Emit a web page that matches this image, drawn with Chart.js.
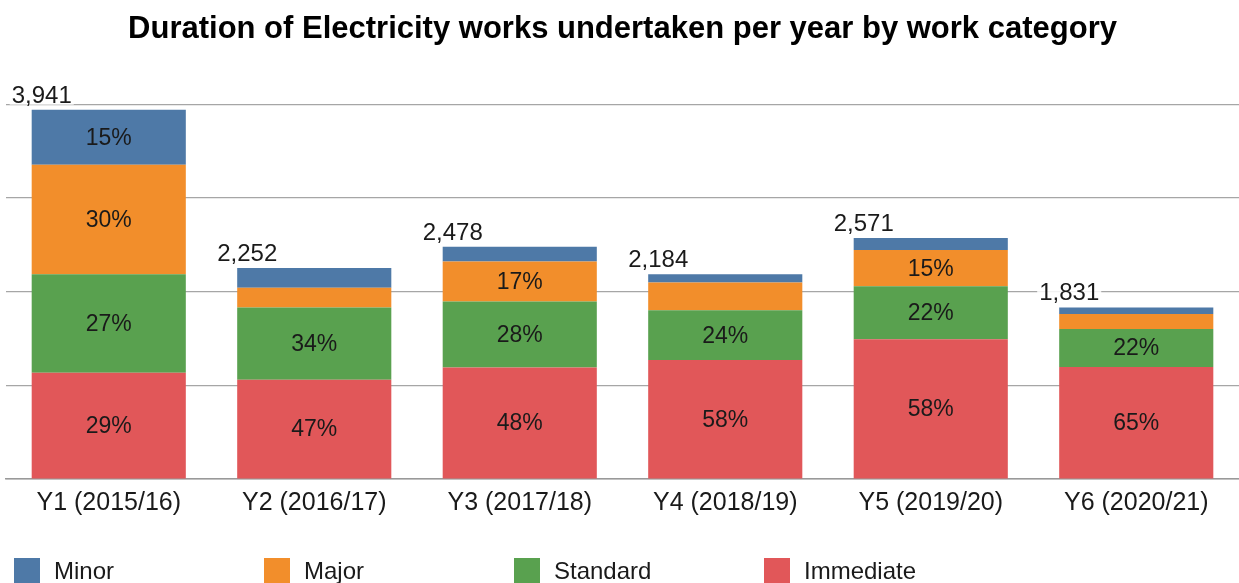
<!DOCTYPE html>
<html>
<head>
<meta charset="utf-8">
<script src="https://cdn.jsdelivr.net/npm/chart.js@4"></script>
<style>
  html, body { margin: 0; padding: 0; background: #fff; }
  #wrap { width: 1239px; height: 583px; }
</style>
</head>
<body>
<div id="wrap"><canvas id="myChart"></canvas></div>
<script>
// values (duration per category, per year)
labels = ["Y1 (2015/16)", "Y2 (2016/17)", "Y3 (2017/18)", "Y4 (2018/19)", "Y5 (2019/20)", "Y6 (2020/21)"];
minor = [586, 210, 158, 88, 128, 71];
major = [1170, 212, 425, 296, 386, 160];
standard = [1050, 770, 705, 530, 566, 405];
immediate = [1135, 1060, 1190, 1270, 1491, 1195];

legendNames = ["Minor", "Major", "Standard", "Immediate"];
legendColors = ["#4e79a7", "#f28e2b", "#59a14f", "#e15759"];

FONT = "'Liberation Sans', Arial, sans-serif";

totals = [];
for (i = 0; i < labels.length; i++) {
  totals.push(minor[i] + major[i] + standard[i] + immediate[i]);
}

// percentages inside segments + totals above bars
labelPlugin = {
  id: "labelPlugin",
  afterDatasetsDraw: function (chart) {
    let ctx = chart.ctx;
    ctx.save();
    ctx.fillStyle = "#1a1a1a";
    ctx.font = "23px " + FONT;
    ctx.textAlign = "center";
    ctx.textBaseline = "middle";
    chart.data.datasets.forEach(function (ds, d) {
      let meta = chart.getDatasetMeta(d);
      meta.data.forEach(function (bar, i) {
        let pct = Math.round((ds.data[i] / totals[i]) * 100);
        if (pct < 15) return;
        let mid = (bar.y + bar.base) / 2;
        ctx.fillText(pct + "%", bar.x, mid + 1);
      });
    });

    // totals, left of bar top with a white box behind
    let top = chart.getDatasetMeta(chart.data.datasets.length - 1);
    ctx.font = "24px " + FONT;
    ctx.textAlign = "left";
    ctx.textBaseline = "alphabetic";
    top.data.forEach(function (bar, i) {
      let txt = totals[i].toLocaleString("en-GB");
      let w = ctx.measureText(txt).width;
      let x = bar.x - bar.width / 2 - 20;
      let y = bar.y - 7;
      ctx.fillStyle = "rgba(255,255,255,0.85)";
      ctx.fillRect(x - 2, y - 20, w + 4, 22);
      ctx.fillStyle = "#1a1a1a";
      ctx.fillText(txt, x, y);
    });
    ctx.restore();
  },
};

// legend spread across the bottom like the original
legendPlugin = {
  id: "legendPlugin",
  afterDraw: function (chart) {
    let ctx = chart.ctx;
    ctx.save();
    ctx.font = "24px " + FONT;
    ctx.textBaseline = "middle";
    for (i = 0; i < legendNames.length; i++) {
      let x = 14 + i * 250;
      ctx.fillStyle = legendColors[i];
      ctx.fillRect(x, 558, 26, 26);
      ctx.fillStyle = "#1a1a1a";
      ctx.fillText(legendNames[i], x + 40, 572);
    }
    ctx.restore();
  },
};

graphSpecs = {
  labels: labels,
  datasets: [
    { label: "Immediate", data: immediate, backgroundColor: legendColors[3] },
    { label: "Standard", data: standard, backgroundColor: legendColors[2] },
    { label: "Major", data: major, backgroundColor: legendColors[1] },
    { label: "Minor", data: minor, backgroundColor: legendColors[0] },
  ],
};

config = {
  type: "bar",
  data: graphSpecs,
  plugins: [labelPlugin, legendPlugin],
  options: {
    animation: false,
    maintainAspectRatio: false,
    responsive: true,
    layout: {
      padding: { left: 6, right: 0, top: 0, bottom: 56 },
    },
    datasets: {
      bar: { barPercentage: 0.75, categoryPercentage: 1, borderWidth: 0 },
    },
    scales: {
      x: {
        stacked: true,
        grid: { display: false, drawTicks: false },
        border: { color: "#999", width: 1.5 },
        ticks: {
          padding: 9,
          color: "#1a1a1a",
          font: { family: FONT, size: 25 },
        },
      },
      y: {
        stacked: true,
        min: 0,
        max: 4000,
        grid: { color: "#a6a6a6", lineWidth: 1.2, drawTicks: false },
        border: { display: false },
        ticks: { display: false, stepSize: 1000 },
      },
    },
    plugins: {
      legend: { display: false },
      tooltip: { enabled: false },
      title: {
        display: true,
        text: "Duration of Electricity works undertaken per year by work category",
        color: "#000",
        font: { family: FONT, size: 31, weight: "bold", lineHeight: 1.2 },
        padding: { top: 11, bottom: 56 },
      },
    },
  },
};

myChart = new Chart(document.getElementById("myChart"), config);
</script>
</body>
</html>
